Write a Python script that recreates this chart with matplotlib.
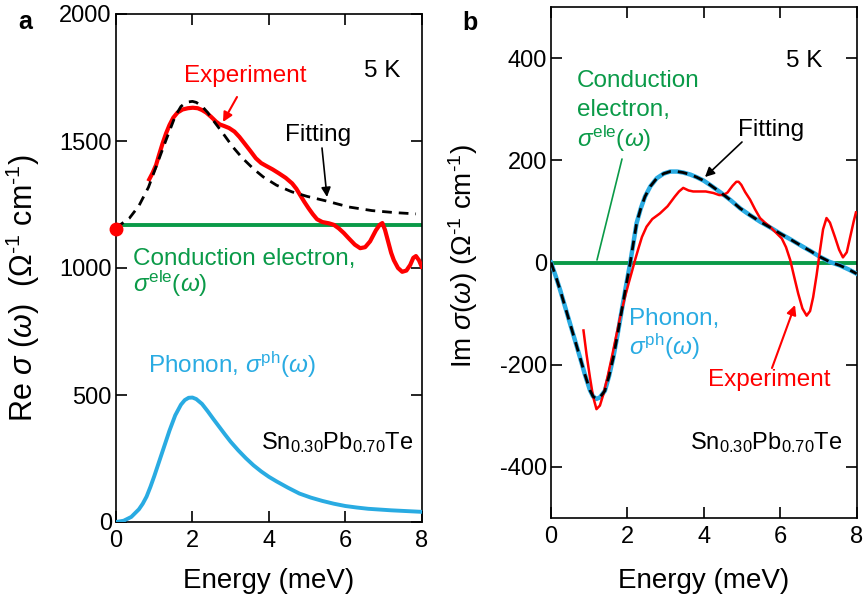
import numpy as np
import matplotlib
matplotlib.use("Agg")
import matplotlib.pyplot as plt
from matplotlib.patches import FancyArrowPatch

plt.rcParams["font.family"] = "Liberation Sans"
plt.rcParams["mathtext.fontset"] = "custom"
plt.rcParams["mathtext.rm"] = "Liberation Sans"
plt.rcParams["mathtext.it"] = "Liberation Sans:italic"
plt.rcParams["mathtext.bf"] = "Liberation Sans:bold"
plt.rcParams["axes.unicode_minus"] = False

RED = "#ff0000"
GREEN = "#0a9a48"
BLUE = "#29abe2"

# ---- panel a: Re sigma ----
ph_re_x = [0, 0.2, 0.4, 0.6, 0.7, 0.8, 0.9, 1.0, 1.2, 1.4, 1.55, 1.7, 1.8, 1.9, 2.0, 2.1,
           2.25, 2.4, 2.55, 2.7, 2.85, 3.0, 3.2, 3.4, 3.6, 3.8, 4.0, 4.2, 4.5, 4.8,
           5.1, 5.4, 5.7, 6.0, 6.3, 6.6, 6.9, 7.2, 7.6, 8.0]
ph_re_y = [0, 5, 20, 50, 72, 100, 138, 180, 270, 360, 420, 462, 480, 489, 490, 484,
           465, 436, 405, 375, 345, 316, 282, 251, 223, 199, 178, 160, 135, 112,
           96, 83, 72, 63, 57, 52, 49, 46, 43, 40]

fit_re_x = [0, 0.1, 0.35, 0.6, 0.85, 1.05, 1.3, 1.55, 1.7, 1.8, 1.9, 2.0, 2.1, 2.25,
            2.4, 2.5, 2.8, 3.05, 3.3, 3.6, 3.85, 4.2, 4.6, 5.0, 5.5, 6.1, 6.7, 7.3, 7.85]
fit_re_y = [1155, 1169, 1196, 1245, 1318, 1399, 1500, 1598, 1636, 1648, 1654, 1656, 1652, 1637,
            1612, 1590, 1530, 1478, 1434, 1390, 1359, 1326, 1300, 1282, 1264, 1240, 1226, 1218, 1213]

exp_re_x = [0.87, 0.96, 1.05, 1.13, 1.22, 1.31, 1.40, 1.50, 1.61, 1.74, 1.88, 2.01, 2.14,
            2.25, 2.36, 2.49, 2.62, 2.72, 2.83, 2.96, 3.10, 3.23, 3.36, 3.51, 3.66, 3.80,
            3.93, 4.10, 4.26, 4.44, 4.61, 4.72, 4.82, 4.93, 5.04, 5.15, 5.26, 5.40, 5.57,
            5.70, 5.83, 5.96, 6.09, 6.25, 6.39, 6.52, 6.65, 6.80, 6.90, 6.97, 7.04, 7.12,
            7.20, 7.27, 7.38, 7.49, 7.60, 7.70, 7.78, 7.85, 7.93, 8.0]
exp_re_y = [1349, 1375, 1406, 1447, 1491, 1530, 1563, 1592, 1612, 1624, 1629, 1631, 1629,
            1622, 1612, 1595, 1576, 1565, 1559, 1551, 1537, 1516, 1491, 1462, 1432, 1413,
            1402, 1388, 1373, 1355, 1333, 1312, 1287, 1260, 1235, 1212, 1192, 1181, 1176,
            1170, 1156, 1138, 1117, 1092, 1078, 1082, 1105, 1148, 1170, 1177, 1150, 1105,
            1060, 1031, 1000, 985, 990, 1012, 1040, 1047, 1030, 1005]

ele_re = 1168
dc_point = (0, 1155)

# ---- panel b: Im sigma ----
fit_im_x = [0, 0.12, 0.24, 0.37, 0.5, 0.63, 0.76, 0.89, 1.02, 1.1, 1.19, 1.28, 1.41,
            1.52, 1.63, 1.74, 1.85, 1.96, 2.07, 2.16, 2.24, 2.35, 2.46, 2.6, 2.77, 2.95,
            3.12, 3.3, 3.46, 3.65, 3.81, 4.0, 4.16, 4.42, 4.7, 4.95, 5.2, 5.47, 5.75,
            5.99, 6.25, 6.52, 6.8, 7.04, 7.3, 7.57, 7.8, 8.0]
fit_im_y = [0, -26, -54, -87, -120, -153, -186, -220, -250, -262, -267, -264, -251,
            -222, -186, -142, -94, -47, -2, 40, 77, 106, 129, 149, 165, 174,
            178, 178, 176, 172, 167, 160, 152, 138, 122, 106, 93, 80, 68,
            57, 46, 34, 22, 11, 1, -6, -14, -22]

exp_im_x = [0.85, 0.93, 1.02, 1.1, 1.19, 1.28, 1.37, 1.48, 1.59, 1.7, 1.81, 1.92, 2.03,
            2.12, 2.2, 2.29, 2.38, 2.5, 2.65, 2.85, 3.05, 3.24, 3.35, 3.46, 3.6, 3.72,
            3.90, 4.05, 4.25, 4.4, 4.51, 4.62, 4.75, 4.85, 4.91, 4.98, 5.08, 5.21, 5.34,
            5.47, 5.6, 5.73, 5.88, 6.04, 6.15, 6.26, 6.37, 6.47, 6.58, 6.69, 6.78, 6.86,
            6.95, 7.04, 7.12, 7.21, 7.3, 7.43, 7.54, 7.64, 7.74, 7.83, 7.92, 7.98]
exp_im_y = [-133, -180, -225, -262, -287, -280, -258, -224, -186, -146, -107, -72, -41,
            -17, 5, 28, 50, 70, 85, 96, 110, 129, 139, 146, 141, 139,
            139, 139, 136, 132, 132, 137, 150, 158, 158, 152, 138, 123, 104,
            87, 78, 70, 59, 47, 30, 5, -30, -61, -90, -104, -95, -68,
            -25, 24, 65, 87, 78, 50, 25, 10, 20, 50, 80, 98]

ele_im = 0

W, H = 863, 598
fig = plt.figure(figsize=(W / 100, H / 100), dpi=100)

ax1 = fig.add_axes([116 / W, 1 - 522 / H, 305.7 / W, 508 / H])
ax2 = fig.add_axes([551 / W, 1 - 518 / H, 305.7 / W, 511 / H])


def style(ax):
    for s in ax.spines.values():
        s.set_linewidth(1.2)
    ax.tick_params(direction="in", length=8, width=1.2, top=True, right=True,
                   labelsize=17)
    ax.tick_params(axis="x", pad=6)
    ax.tick_params(axis="y", pad=3)


unit = r"(Ω$^{\mathrm{‐1}}$ cm$^{\mathrm{‐1}}$)"

# panel a
ax1.plot([0, 8], [ele_re, ele_re], color=GREEN, lw=2.8, zorder=2)
ax1.plot(ph_re_x, ph_re_y, color=BLUE, lw=2.8, zorder=3)
ax1.plot(exp_re_x, exp_re_y, color=RED, lw=3.0, zorder=4)
ax1.plot(fit_re_x, fit_re_y, color="black", lw=2.0, ls=(0, (3.5, 2.5)), zorder=5)
ax1.plot(*dc_point, "o", color=RED, ms=9, clip_on=False, zorder=6)
ax1.set_xlim(0, 8)
ax1.set_ylim(0, 2000)
ax1.set_xticks([0, 2, 4, 6, 8])
ax1.set_yticks([0, 500, 1000, 1500, 2000])
style(ax1)
ax1.set_xlabel("Energy (meV)", fontsize=20)
ax1.set_ylabel(r"Re $\sigma$ ($\omega$)  " + unit, fontsize=22)
ax1.xaxis.set_label_coords(0.5, -0.09)
ax1.yaxis.set_label_coords(-0.243, 0.46)

# panel b
ax2.plot([0, 8], [ele_im, ele_im], color=GREEN, lw=2.8, zorder=2)
ax2.plot(fit_im_x, fit_im_y, color=BLUE, lw=3.2, zorder=3)
ax2.plot(exp_im_x, exp_im_y, color=RED, lw=1.8, zorder=4)
ax2.plot(fit_im_x, fit_im_y, color="black", lw=2.0, ls=(0, (3.5, 2.5)), zorder=5)
ax2.set_xlim(0, 8)
ax2.set_ylim(-500, 500)
ax2.set_xticks([0, 2, 4, 6, 8])
ax2.set_yticks([-400, -200, 0, 200, 400])
style(ax2)
ax2.set_xlabel("Energy (meV)", fontsize=20)
ax2.set_ylabel(r"Im $\sigma$($\omega$) " + unit, fontsize=20)
ax2.xaxis.set_label_coords(0.5, -0.098)
ax2.yaxis.set_label_coords(-0.232, 0.513)


def put(x, y, s, **kw):
    kw.setdefault("fontsize", 17.5)
    kw.setdefault("va", "center")
    fig.text(x / W, 1 - y / H, s, **kw)


def arrow(x0, y0, x1, y1, color, style="-|>", lw=1.2):
    p = FancyArrowPatch((x0 / W, 1 - y0 / H), (x1 / W, 1 - y1 / H),
                        transform=fig.transFigure, arrowstyle=style, color=color,
                        lw=lw, mutation_scale=14, shrinkA=0, shrinkB=0, zorder=10)
    fig.add_artist(p)


put(25, 22, "a", fontsize=18, fontweight="bold", ha="center")
put(470, 23, "b", fontsize=18, fontweight="bold", ha="center")

# panel a labels
put(382, 71, "5 K", ha="center")
put(245, 76, "Experiment", color=RED, ha="center")
arrow(237, 97, 223, 122, RED, lw=1.5)
put(318, 135, "Fitting", ha="center")
arrow(322, 148, 327, 197, "black")
put(133, 259, "Conduction electron,", color=GREEN, ha="left")
put(133, 284, r"$\sigma^{\rm ele}(\omega)$", color=GREEN, ha="left")
put(148, 365, r"Phonon, $\sigma^{\rm ph}(\omega)$", color=BLUE, ha="left")
put(413, 443, r"Sn$_{0.30}$Pb$_{0.70}$Te", ha="right", fontsize=17)

# panel b labels
put(804, 61, "5 K", ha="center")
put(577, 81, "Conduction", color=GREEN, ha="left")
put(577, 110, "electron,", color=GREEN, ha="left")
put(577, 139, r"$\sigma^{\rm ele}(\omega)$", color=GREEN, ha="left")
arrow(597, 260, 622, 159, GREEN, style="-", lw=1.2)
put(771, 130, "Fitting", ha="center")
arrow(742, 142, 705, 177, "black")
put(629, 319, "Phonon,", color=BLUE, ha="left")
put(629, 347, r"$\sigma^{\rm ph}(\omega)$", color=BLUE, ha="left")
put(769, 380, "Experiment", color=RED, ha="center")
arrow(772, 368, 795, 305, RED, lw=1.5)
put(842, 443, r"Sn$_{0.30}$Pb$_{0.70}$Te", ha="right", fontsize=17)

fig.savefig("out.png", dpi=100)
